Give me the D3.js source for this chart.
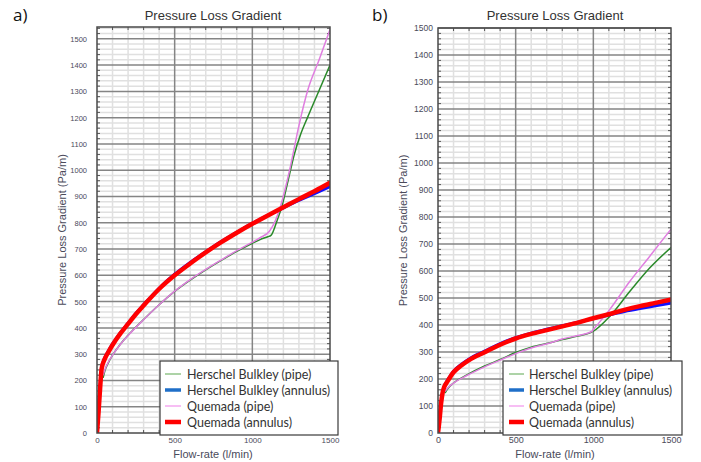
<!DOCTYPE html>
<html><head><meta charset="utf-8">
<script src="https://cdn.jsdelivr.net/npm/d3@7"></script>
<style>body{margin:0;background:#fff;} svg{display:block;}</style>
</head><body>
<svg id="chart" width="701" height="462"></svg>
<script>
// ---------- data ----------
const seriesNames = ["Herschel Bulkley (pipe)", "Herschel Bulkley (annulus)", "Quemada (pipe)", "Quemada (annulus)"];
const chartTitle = "Pressure Loss Gradient";
const xTitle = "Flow-rate (l/min)";
const yTitle = "Pressure Loss Gradient (Pa/m)";
const xTickValues = [0, 500, 1000, 1500];
const yTickValues = [0, 100, 200, 300, 400, 500, 600, 700, 800, 900, 1000, 1100, 1200, 1300, 1400, 1500];

// panel a
const aPipeHBFlow = [40, 50, 75, 100, 150, 200, 300, 400, 500, 600, 700, 800, 900, 1000, 1050, 1100, 1120, 1160, 1190, 1230, 1270, 1310, 1357, 1420, 1500];
const aPipeHB     = [212, 235, 270, 296, 338, 372, 432, 488, 539, 582, 621, 657, 691, 722, 736, 747, 752, 810, 862, 960, 1060, 1135, 1203, 1290, 1400];
const aPipeQFlow  = [40, 50, 75, 100, 150, 200, 300, 400, 500, 600, 700, 800, 900, 1000, 1050, 1110, 1150, 1180, 1240, 1300, 1357, 1430, 1500];
const aPipeQ      = [222, 240, 272, 296, 337, 371, 431, 488, 540, 584, 623, 659, 694, 726, 743, 768, 810, 860, 1000, 1170, 1305, 1420, 1535];
const aAnnFlow    = [0, 10, 20, 30, 50, 75, 100, 150, 200, 250, 300, 400, 500, 600, 700, 800, 900, 1000, 1100, 1200, 1300, 1400, 1500];
const aAnnHB      = [0, 85, 180, 250, 286, 314, 339, 381, 418, 455, 488, 551, 604, 649, 690, 729, 764, 798, 828, 857, 885, 911, 938];
const aAnnQ       = [0, 80, 170, 245, 282, 310, 335, 378, 415, 452, 485, 548, 600, 645, 687, 726, 762, 796, 828, 859, 890, 920, 952];

// panel b
const bPipeHBFlow = [47, 60, 100, 186, 300, 400, 500, 600, 720, 800, 900, 987, 1000, 1104, 1233, 1361, 1500];
const bPipeHB     = [150, 162, 185, 215, 248, 272, 298, 318, 334, 346, 359, 373, 377, 431, 523, 610, 687];
const bPipeQFlow  = [47, 60, 100, 186, 300, 400, 500, 600, 720, 800, 900, 990, 1000, 1104, 1233, 1361, 1500];
const bPipeQ      = [155, 165, 185, 213, 245, 270, 294, 315, 333, 348, 361, 376, 383, 456, 560, 653, 755];
const bAnnFlow    = [0, 10, 20, 30, 40, 60, 100, 150, 200, 300, 400, 500, 600, 700, 800, 900, 1000, 1100, 1200, 1300, 1400, 1500];
const bAnnHB      = [0, 52, 113, 153, 173, 194, 229, 254, 274, 303, 331, 353, 370, 384, 397, 410, 424, 437, 450, 461, 471, 481];
const bAnnQ       = [0, 50, 110, 150, 170, 190, 225, 250, 270, 299, 327, 350, 367, 381, 395, 409, 425, 440, 456, 470, 482, 494];

// ---------- styles ----------
const seriesStyle = [
  {color: "#2a8a2a", width: 1.5, legendColor: "#92c48a", legendWidth: 1.5},
  {color: "#1010ff", width: 3,   legendColor: "#1f6fc8", legendWidth: 3.5},
  {color: "#e07ee0", width: 1.5, legendColor: "#f4a8f0", legendWidth: 1.5},
  {color: "#ff0000", width: 4.5, legendColor: "#ff0000", legendWidth: 4.5}
];
const drawOrder = [0, 2, 1, 3];

const zip = (xs, ys) => xs.map((v, i) => [v, ys[i]]);

const panels = [
  {label: "a)", labelX: 13, left: 97, right: 330, top: 27, bottom: 433, yMax: 1545,
   yFont: 7.5, xFont: 8, yGap: 10, yTitleX: 62, center: 213,
   legend: {x: 160, y: 361, w: 178, h: 74, sampleX: 165, sampleW: 16, textX: 187},
   series: [zip(aPipeHBFlow, aPipeHB), zip(aAnnFlow, aAnnHB), zip(aPipeQFlow, aPipeQ), zip(aAnnFlow, aAnnQ)]},
  {label: "b)", labelX: 372, left: 438, right: 671, top: 28, bottom: 433, yMax: 1500,
   yFont: 8.5, xFont: 9, yGap: 5, yTitleX: 403, center: 555,
   legend: {x: 503, y: 361, w: 179, h: 74, sampleX: 509, sampleW: 15, textX: 529},
   series: [zip(bPipeHBFlow, bPipeHB), zip(bAnnFlow, bAnnHB), zip(bPipeQFlow, bPipeQ), zip(bAnnFlow, bAnnQ)]}
];

const svg = d3.select("#chart");
const fmt = d3.format("d");

panels.forEach((p, pi) => {
  const x = d3.scaleLinear().domain([0, 1500]).range([p.left, p.right]);
  const y = d3.scaleLinear().domain([0, p.yMax]).range([p.bottom, p.top]);
  const g = svg.append("g");
  const clipId = "clip" + pi;
  svg.append("clipPath").attr("id", clipId).append("rect")
    .attr("x", p.left).attr("y", p.top).attr("width", p.right - p.left).attr("height", p.bottom - p.top);

  // minor grid
  const xMinor = d3.range(0, 1501, 100).filter(v => v % 500 !== 0);
  const yMinor = d3.range(0, p.yMax, 20).filter(v => v % 100 !== 0);
  g.append("g").selectAll("line").data(xMinor).join("line")
    .attr("x1", d => x(d)).attr("x2", d => x(d)).attr("y1", p.top).attr("y2", p.bottom)
    .attr("stroke", "#e0e0e0").attr("stroke-width", 1.5);
  g.append("g").selectAll("line").data(yMinor).join("line")
    .attr("x1", p.left).attr("x2", p.right).attr("y1", d => y(d)).attr("y2", d => y(d))
    .attr("stroke", "#e0e0e0").attr("stroke-width", 1.5);
  // major grid
  g.append("g").selectAll("line").data([500, 1000]).join("line")
    .attr("x1", d => x(d)).attr("x2", d => x(d)).attr("y1", p.top).attr("y2", p.bottom)
    .attr("stroke", "#858585").attr("stroke-width", 1.5);
  g.append("g").selectAll("line").data(yTickValues.filter(v => v > 0)).join("line")
    .attr("x1", p.left).attr("x2", p.right).attr("y1", d => y(d)).attr("y2", d => y(d))
    .attr("stroke", "#858585").attr("stroke-width", 1.5);
  // minor inner ticks
  const tk = g.append("g").attr("stroke", "#555").attr("stroke-width", 1);
  tk.selectAll(".tl").data(yMinor).join("line").attr("class", "tl")
    .attr("x1", p.left).attr("x2", p.left + 3).attr("y1", d => y(d)).attr("y2", d => y(d));
  tk.selectAll(".tr").data(yMinor).join("line").attr("class", "tr")
    .attr("x1", p.right - 3).attr("x2", p.right).attr("y1", d => y(d)).attr("y2", d => y(d));
  tk.selectAll(".tt").data(xMinor).join("line").attr("class", "tt")
    .attr("x1", d => x(d)).attr("x2", d => x(d)).attr("y1", p.top).attr("y2", p.top + 3);
  tk.selectAll(".tb").data(xMinor).join("line").attr("class", "tb")
    .attr("x1", d => x(d)).attr("x2", d => x(d)).attr("y1", p.bottom - 3).attr("y2", p.bottom);

  // series
  const line = d3.line().curve(d3.curveMonotoneX).x(d => x(d[0])).y(d => y(d[1]));
  const lg = g.append("g").attr("clip-path", `url(#${clipId})`);
  drawOrder.forEach(si => {
    lg.append("path").datum(p.series[si]).attr("d", line)
      .attr("fill", "none").attr("stroke", seriesStyle[si].color)
      .attr("stroke-width", seriesStyle[si].width)
      .attr("stroke-linejoin", "round").attr("stroke-linecap", "round");
  });

  // border
  g.append("rect").attr("x", p.left).attr("y", p.top)
    .attr("width", p.right - p.left).attr("height", p.bottom - p.top)
    .attr("fill", "none").attr("stroke", "#4a4a4a").attr("stroke-width", 1.5);

  // axes labels
  const yAxis = g.append("g").attr("transform", `translate(${p.left},0)`)
    .call(d3.axisLeft(y).tickValues(yTickValues).tickFormat(fmt).tickSize(0).tickPadding(p.yGap));
  yAxis.select(".domain").remove();
  yAxis.selectAll("text").attr("font-family", "Liberation Sans, Arial, sans-serif")
    .attr("font-size", p.yFont).attr("fill", "#4a4a5a");
  const xAxis = g.append("g").attr("transform", `translate(0,${p.bottom})`)
    .call(d3.axisBottom(x).tickValues(xTickValues).tickFormat(fmt).tickSize(0).tickPadding(4));
  xAxis.select(".domain").remove();
  xAxis.selectAll("text").attr("font-family", "Liberation Sans, Arial, sans-serif")
    .attr("font-size", p.xFont).attr("fill", "#4a4a5a");

  // titles
  g.append("text").attr("x", p.center).attr("y", 20).attr("text-anchor", "middle")
    .attr("font-family", "Liberation Sans, Arial, sans-serif").attr("font-size", 13)
    .attr("fill", "#333").text(chartTitle);
  g.append("text").attr("x", p.labelX).attr("y", 21)
    .attr("font-family", "Open Sans, sans-serif").attr("font-size", 17)
    .attr("fill", "#111").text(p.label);
  g.append("text").attr("x", p.center).attr("y", 458).attr("text-anchor", "middle")
    .attr("font-family", "Liberation Sans, Arial, sans-serif").attr("font-size", 11)
    .attr("fill", "#4a4a5a").text(xTitle);
  g.append("text").attr("transform", `translate(${p.yTitleX + 4},${(p.top + p.bottom) / 2}) rotate(-90)`)
    .attr("text-anchor", "middle")
    .attr("font-family", "Liberation Sans, Arial, sans-serif").attr("font-size", 11)
    .attr("fill", "#4a4a5a").text(yTitle);

  // legend
  const L = p.legend;
  const leg = g.append("g");
  leg.append("rect").attr("x", L.x).attr("y", L.y).attr("width", L.w).attr("height", L.h)
    .attr("fill", "#fff").attr("stroke", "#3a3a3a").attr("stroke-width", 1.2);
  seriesNames.forEach((name, i) => {
    const cy = L.y + 13 + i * 16;
    leg.append("line").attr("x1", L.sampleX).attr("x2", L.sampleX + L.sampleW)
      .attr("y1", cy).attr("y2", cy)
      .attr("stroke", seriesStyle[i].legendColor).attr("stroke-width", seriesStyle[i].legendWidth);
    leg.append("text").attr("x", L.textX).attr("y", cy + 4.5)
      .attr("font-family", "Lato, sans-serif").attr("font-size", 12.5)
      .attr("fill", "#333").text(name);
  });
});
</script>
</body></html>
